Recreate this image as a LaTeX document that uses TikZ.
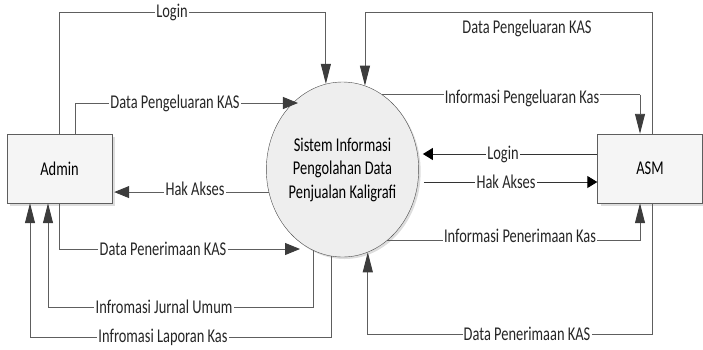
\documentclass[tikz,border=0pt]{standalone}
\usepackage{fontspec}
\setmainfont{Carlito}[FakeStretch=0.74]
\usetikzlibrary{arrows.meta,shadows,calc,shapes.geometric}
\definecolor{linec}{HTML}{5E5E5E}
\definecolor{arrc}{HTML}{3C3C3C}
\begin{document}
\begin{tikzpicture}[x=1pt,y=-1pt,
  every node/.style={font=\fontsize{19.5}{23.5}\selectfont},
  entity/.style={draw=linec, fill=gray!8, minimum width=105pt, minimum height=69pt, inner sep=0pt,
     drop shadow={shadow xshift=3pt, shadow yshift=-3pt, fill=gray!45, opacity=0.6}},
  proc/.style={ellipse, draw=black!70, fill=gray!13, minimum width=131pt, minimum height=175pt, inner sep=0pt, align=center,
     drop shadow={shadow xshift=2pt, shadow yshift=-2pt, fill=gray!45, opacity=0.6}},
  flowv/.style={draw=linec, line width=0.9pt, -{Triangle[length=20pt,width=10pt,fill=arrc,color=arrc]}},
  flowh/.style={draw=linec, line width=0.9pt, -{Triangle[length=15pt,width=12pt,fill=arrc,color=arrc]}},
  flowk/.style={draw=black!80, line width=0.9pt, -{Triangle[length=10pt,width=12pt,fill=black,color=black]}},
  plain/.style={draw=linec, line width=0.9pt},
  lbl/.style={fill=white, inner sep=1.2pt, text=black!85}
]
\useasboundingbox (0,0) rectangle (703,349);

\node[entity] (admin) at (59.5,168.5) {Admin};
\node[entity] (asm) at (650,168.5) {ASM};
\node[proc] (sys) at (342.5,169.5) {Sistem Informasi\\Pengolahan Data\\Penjualan Kaligrafi};

% routing coordinates
\coordinate (ytop) at (0,12);
\coordinate (y2) at (0,103);
\coordinate (ypen) at (0,249);
\coordinate (yjur) at (0,307);
\coordinate (ylap) at (0,337);
\coordinate (xadm2) at (75,0);
\coordinate (xjur) at (48,0);
\coordinate (xlap) at (30,0);
\coordinate (penTip) at (300,249);
\coordinate (xasm1) at (652,0);
\coordinate (xasm2) at (640,0);
\coordinate (ylogin) at (0,154);
\coordinate (yhak2) at (0,182);
\coordinate (ybot) at (0,334);

% Admin side
\draw[flowv] (admin.north) -- (admin.north |- ytop) -- (sys.101 |- ytop) -- (sys.101);
\draw[flowh] (xadm2 |- admin.north) -- (xadm2 |- y2) -- (sys.122.6 |- y2);
\draw[flowh, shorten >=2pt] (sys.197) -- (admin.east |- sys.197);
\draw[flowh] (admin.south) -- (admin.south |- ypen) -- (penTip);
\draw[flowv] (sys.250.9) -- (sys.250.9 |- yjur) -- (xjur |- yjur) -- (xjur |- admin.south);
\draw[flowv] (sys.263.1) -- (sys.263.1 |- ylap) -- (xlap |- ylap) -- (xlap |- admin.south);

% ASM side
\draw[flowv] (xasm1 |- asm.north) -- (xasm1 |- ytop) -- (sys.75.4 |- ytop) -- (sys.75.4);
\draw[plain] (sys.62.1) -- (xasm2 |- sys.62.1);
\draw[flowv] (xasm2 |- sys.62.1) -- (xasm2 |- asm.north);
\draw[flowk, shorten >=4pt] (asm.west |- ylogin) -- (sys.east |- ylogin);
\draw[flowk, shorten <=5pt] (sys.east |- yhak2) -- (asm.west |- yhak2);
\draw[flowv] (sys.302.6) -- (xasm2 |- sys.302.6) -- (xasm2 |- asm.south);
\draw[flowv] (xasm1 |- asm.south) -- (xasm1 |- ybot) -- (sys.287.6 |- ybot) -- (sys.287.6);

% labels
\node[lbl] (l1) at (172,12) {Login};
\node[lbl] (l2) at (175,103) {Data Pengeluaran KAS};
\node[lbl] (l3) at (195,189) {Hak Akses};
\node[lbl] (l4) at (163,249) {Data Penerimaan KAS};
\node[lbl] (l5) at (164,307) {Infromasi Jurnal Umum};
\node[lbl] (l6) at (163,337) {Infromasi Laporan Kas};
\node[text=black!85] (r1) at (527,28) {Data Pengeluaran KAS};
\node[lbl] (r2) at (522,98) {Informasi Pengeluaran Kas};
\node[lbl] (r3) at (503,154) {Login};
\node[lbl] (r4) at (506,182) {Hak Akses};
\node[lbl] (r5) at (520,236) {Informasi Penerimaan Kas};
\node[lbl] (r6) at (527,334) {Data Penerimaan KAS};
\end{tikzpicture}
\end{document}
